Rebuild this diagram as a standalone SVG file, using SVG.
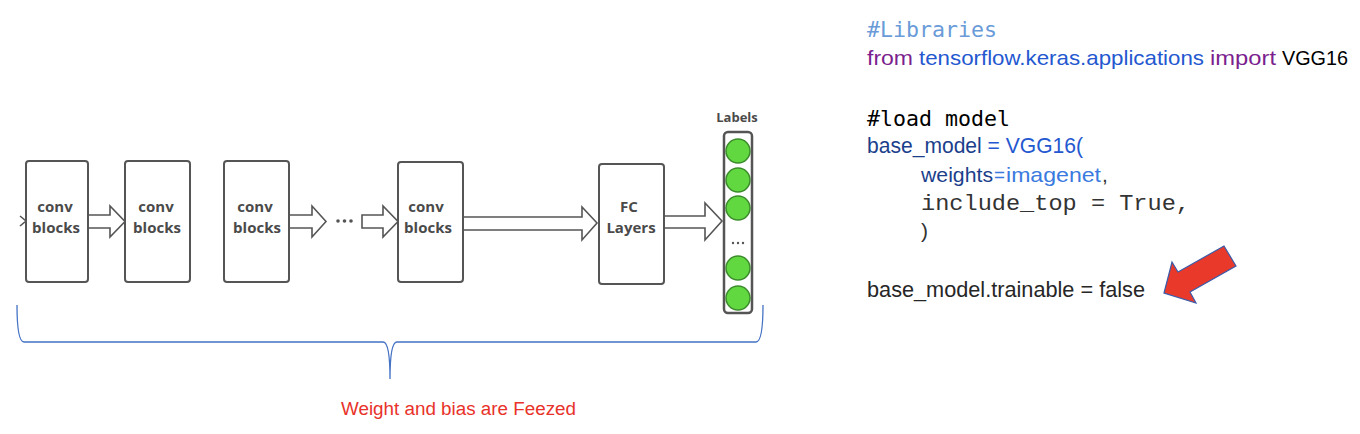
<svg xmlns="http://www.w3.org/2000/svg" width="1360" height="434" viewBox="0 0 1360 434">
<style>
.box{fill:#fff;stroke:#555;stroke-width:2;}
.arr{fill:#fff;stroke:#555;stroke-width:1.6;stroke-linejoin:miter;}
.lbl{font-family:"Open Sans","DejaVu Sans",sans-serif;font-weight:bold;font-size:15px;fill:#4a4a4a;text-anchor:middle;}
.dot{fill:#555;}
.neuron{fill:#62D840;stroke:#3C8C2C;stroke-width:1.5;}
.sans{font-family:"Liberation Sans",Arial,sans-serif;font-size:21px;}
.mono{font-family:"DejaVu Sans Mono",monospace;font-size:21px;}
.cour{font-family:"Liberation Mono","Courier New",monospace;font-size:22px;}
</style>
<rect width="1360" height="434" fill="#fff"/>

<g id="connectors">
  <polyline points="20,216 26,221 20,226" fill="none" stroke="#555" stroke-width="1.6"/>
  <path class="arr" d="M88,215 L110,215 L110,206 L125,221.5 L110,237 L110,228 L88,228"/>
  <path class="arr" d="M289,215 L312,215 L312,206 L326,221.5 L312,237 L312,228 L289,228"/>
  <path class="arr" d="M362,215 L383,215 L383,206 L398,221.5 L383,237 L383,228 L362,228 Z"/>
  <path class="arr" d="M463,217 L582,217 L582,207 L597,223 L582,240 L582,230 L463,230"/>
  <path class="arr" d="M664,216 L705,216 L705,203 L722,221 L705,240 L705,228 L664,228"/>
  <g id="ellipsis1">
    <circle class="dot" cx="338" cy="221" r="1.8"/>
    <circle class="dot" cx="344.5" cy="221" r="1.8"/>
    <circle class="dot" cx="351" cy="221" r="1.8"/>
  </g>
</g>

<g id="conv1">
  <rect class="box" x="26" y="161" width="62" height="121" rx="3"/>
  <text class="lbl" x="55" y="212">conv</text>
  <text class="lbl" x="56" y="233">blocks</text>
</g>
<g id="conv2">
  <rect class="box" x="125" y="161" width="65" height="121" rx="3"/>
  <text class="lbl" x="156" y="212">conv</text>
  <text class="lbl" x="157" y="233">blocks</text>
</g>
<g id="conv3">
  <rect class="box" x="224" y="161" width="65" height="121" rx="3"/>
  <text class="lbl" x="255" y="212">conv</text>
  <text class="lbl" x="257" y="233">blocks</text>
</g>
<g id="conv4">
  <rect class="box" x="398" y="162" width="65" height="120" rx="3"/>
  <text class="lbl" x="426" y="212">conv</text>
  <text class="lbl" x="428" y="233">blocks</text>
</g>
<g id="fc">
  <rect class="box" x="599" y="164" width="65" height="120" rx="3"/>
  <text class="lbl" x="629" y="212">FC</text>
  <text class="lbl" x="631" y="233">Layers</text>
</g>
<g id="labels">
  <text class="lbl" x="737" y="122" style="font-size:13px">Labels</text>
  <rect x="724" y="132" width="28" height="181" rx="4" fill="#fff" stroke="#555" stroke-width="2.5"/>
  <circle class="neuron" cx="738" cy="151" r="12"/>
  <circle class="neuron" cx="738" cy="180" r="12"/>
  <circle class="neuron" cx="738" cy="208" r="12"/>
  <circle class="dot" cx="733" cy="243" r="1.2"/>
  <circle class="dot" cx="738" cy="243" r="1.2"/>
  <circle class="dot" cx="743" cy="243" r="1.2"/>
  <circle class="neuron" cx="738" cy="268" r="12"/>
  <circle class="neuron" cx="738" cy="298" r="12"/>
</g>

<g id="brace">
  <path d="M17,305 Q17,342 24,342 L383,342 Q390,342 390,379 Q390,342 397,342 L756,342 Q763,342 763,305" fill="none" stroke="#4472C4" stroke-width="1.3"/>
  <text x="341" y="415" textLength="235" lengthAdjust="spacingAndGlyphs" style="font-family:'Liberation Sans',Arial,sans-serif;font-size:18px;fill:#E8322A">Weight and bias are Feezed</text>
</g>

<g id="code">
  <text class="mono" x="867" y="37" textLength="130" lengthAdjust="spacingAndGlyphs" fill="#6A9BD8">#Libraries</text>
  <text class="sans" x="867" y="65" textLength="46" lengthAdjust="spacingAndGlyphs" fill="#7B1F8E">from</text>
  <text class="sans" x="919" y="65" textLength="285" lengthAdjust="spacingAndGlyphs" fill="#2458D0">tensorflow.keras.applications</text>
  <text class="sans" x="1210" y="65" textLength="66" lengthAdjust="spacingAndGlyphs" fill="#7B1F8E">import</text>
  <text class="sans" x="1282" y="65" textLength="66" lengthAdjust="spacingAndGlyphs" fill="#000">VGG16</text>

  <text class="mono" x="867" y="126" textLength="143" lengthAdjust="spacingAndGlyphs" fill="#000">#load model</text>
  <text class="sans" x="867" y="153" textLength="216" lengthAdjust="spacingAndGlyphs" style="font-size:22px"><tspan fill="#1C3F8C">base_model</tspan><tspan fill="#2458D0"> = VGG16(</tspan></text>
  <text class="sans" x="921" y="182" textLength="72" lengthAdjust="spacingAndGlyphs" fill="#1C3F8C">weights</text>
  <text class="sans" x="994" y="182" textLength="11" lengthAdjust="spacingAndGlyphs" fill="#3A7AE0">=</text>
  <text class="sans" x="1006" y="182" textLength="95" lengthAdjust="spacingAndGlyphs" fill="#3A7AE0">imagenet</text>
  <text class="sans" x="1102" y="182" fill="#333">,</text>
  <text class="cour" x="921" y="210" textLength="269" lengthAdjust="spacingAndGlyphs" fill="#333">include_top = True,</text>
  <text class="sans" x="921" y="238" fill="#333">)</text>
  <text class="sans" x="867" y="297" textLength="278" lengthAdjust="spacingAndGlyphs" fill="#262626" style="font-size:22px">base_model.trainable = false</text>
</g>

<g id="red-arrow">
  <polygon points="1164,293 1172,262 1178,272 1224,246 1236,266 1190,292 1196,303" fill="#E8392B" stroke="#3B5BA9" stroke-width="1.2" stroke-linejoin="miter"/>
</g>
</svg>
